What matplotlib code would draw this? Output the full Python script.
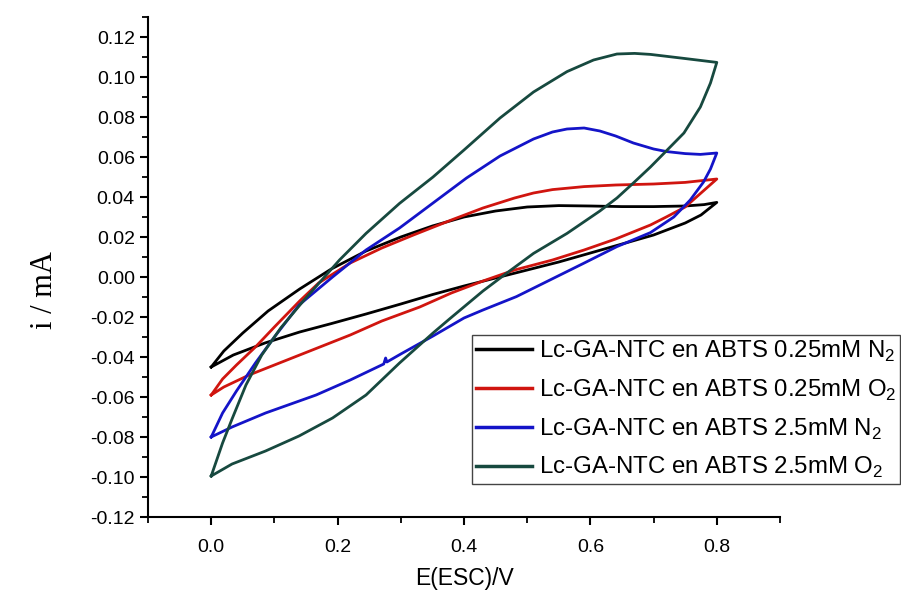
import matplotlib
matplotlib.use("Agg")
import matplotlib.pyplot as plt
from matplotlib.ticker import MultipleLocator, FormatStrFormatter

plt.rcParams["font.family"] = ["Liberation Sans", "DejaVu Sans"]
plt.rcParams["mathtext.fontset"] = "custom"
plt.rcParams["mathtext.rm"] = "Liberation Sans"

LABELS = [
    r"Lc-GA-NTC en ABTS 0.25mM N$_\mathrm{2}$",
    r"Lc-GA-NTC en ABTS 0.25mM O$_\mathrm{2}$",
    r"Lc-GA-NTC en ABTS 2.5mM N$_\mathrm{2}$",
    r"Lc-GA-NTC en ABTS 2.5mM O$_\mathrm{2}$",
]
COLORS = ["#000000", "#d0150f", "#1414c8", "#17493f"]

# 0.25 mM ABTS, N2 : forward sweep (0 -> 0.8 V) then reverse (0.8 -> 0 V)
e_n2_low_fwd = [0.0, 0.02, 0.05, 0.09, 0.14, 0.19, 0.245, 0.30, 0.35, 0.40, 0.45,
                0.50, 0.55, 0.60, 0.65, 0.70, 0.75, 0.78, 0.80]
i_n2_low_fwd = [-0.045, -0.037, -0.028, -0.017, -0.006, 0.004, 0.013, 0.020, 0.0255,
                0.030, 0.033, 0.035, 0.0357, 0.0355, 0.0352, 0.0352, 0.0355, 0.0362, 0.0373]
e_n2_low_rev = [0.80, 0.775, 0.75, 0.70, 0.65, 0.60, 0.55, 0.50, 0.45, 0.40, 0.35,
                0.30, 0.245, 0.19, 0.14, 0.085, 0.035, 0.0]
i_n2_low_rev = [0.0373, 0.031, 0.027, 0.021, 0.0165, 0.012, 0.0075, 0.0035, -0.0005,
                -0.0045, -0.0088, -0.0135, -0.0185, -0.0233, -0.0275, -0.033, -0.039, -0.045]

# 0.25 mM ABTS, O2
e_o2_low_fwd = [0.0, 0.018, 0.04, 0.07, 0.10, 0.14, 0.17, 0.22, 0.27, 0.32, 0.38, 0.43,
                0.48, 0.51, 0.54, 0.59, 0.64, 0.70, 0.75, 0.80]
i_o2_low_fwd = [-0.059, -0.051, -0.044, -0.035, -0.025, -0.012, -0.003, 0.007, 0.0145,
                0.021, 0.0285, 0.0345, 0.0395, 0.042, 0.0437, 0.0452, 0.046, 0.0465,
                0.0473, 0.049]
e_o2_low_rev = [0.80, 0.775, 0.75, 0.72, 0.695, 0.64, 0.59, 0.54, 0.48, 0.43, 0.38,
                0.33, 0.27, 0.22, 0.14, 0.06, 0.02, 0.0]
i_o2_low_rev = [0.049, 0.042, 0.035, 0.030, 0.026, 0.019, 0.0135, 0.0085, 0.0035,
                -0.002, -0.008, -0.015, -0.022, -0.029, -0.039, -0.049, -0.055, -0.059]

# 2.5 mM ABTS, N2 (small glitch near 0.28 V on the reverse sweep)
e_n2_high_fwd = [0.0, 0.018, 0.04, 0.07, 0.10, 0.139, 0.192, 0.245, 0.298, 0.351, 0.404,
                 0.457, 0.51, 0.54, 0.563, 0.59, 0.615, 0.64, 0.668, 0.70, 0.721, 0.75,
                 0.774, 0.80]
i_n2_high_fwd = [-0.080, -0.068, -0.057, -0.043, -0.030, -0.014, 0.0, 0.0135, 0.0245,
                 0.037, 0.0495, 0.0605, 0.069, 0.0725, 0.074, 0.0745, 0.073, 0.0705,
                 0.067, 0.064, 0.0627, 0.0617, 0.0613, 0.062]
e_n2_high_rev = [0.80, 0.79, 0.779, 0.758, 0.732, 0.695, 0.642, 0.589, 0.536, 0.483,
                 0.43, 0.40, 0.351, 0.30, 0.278, 0.276, 0.273, 0.22, 0.166, 0.086, 0.033, 0.0]
i_n2_high_rev = [0.062, 0.054, 0.0475, 0.0385, 0.030, 0.0222, 0.0152, 0.0068, -0.0015,
                 -0.0098, -0.0165, -0.0205, -0.0295, -0.0385, -0.0425, -0.0405, -0.0435,
                 -0.0515, -0.059, -0.068, -0.075, -0.080]

# 2.5 mM ABTS, O2
e_o2_high_fwd = [0.0, 0.018, 0.033, 0.055, 0.08, 0.11, 0.147, 0.203, 0.245, 0.298, 0.351,
                 0.40, 0.457, 0.51, 0.563, 0.605, 0.642, 0.67, 0.695, 0.748, 0.80]
i_o2_high_fwd = [-0.0995, -0.083, -0.071, -0.054, -0.039, -0.0255, -0.0115, 0.0085, 0.0218,
                 0.0368, 0.050, 0.0635, 0.0795, 0.0925, 0.1027, 0.1085, 0.1115, 0.1118,
                 0.1113, 0.1093, 0.1073]
e_o2_high_rev = [0.80, 0.79, 0.774, 0.748, 0.72, 0.695, 0.668, 0.642, 0.615, 0.563, 0.51,
                 0.467, 0.43, 0.377, 0.351, 0.298, 0.245, 0.192, 0.139, 0.086, 0.033, 0.0]
i_o2_high_rev = [0.1073, 0.097, 0.085, 0.072, 0.063, 0.055, 0.047, 0.0395, 0.033, 0.0218,
                 0.0118, 0.0018, -0.007, -0.021, -0.028, -0.043, -0.059, -0.0705, -0.0795,
                 -0.087, -0.0935, -0.0995]

curves = [
    (e_n2_low_fwd + e_n2_low_rev[1:], i_n2_low_fwd + i_n2_low_rev[1:]),
    (e_o2_low_fwd + e_o2_low_rev[1:], i_o2_low_fwd + i_o2_low_rev[1:]),
    (e_n2_high_fwd + e_n2_high_rev[1:], i_n2_high_fwd + i_n2_high_rev[1:]),
    (e_o2_high_fwd + e_o2_high_rev[1:], i_o2_high_fwd + i_o2_high_rev[1:]),
]

fig = plt.figure(figsize=(9.01, 5.92), dpi=100)
ax = fig.add_axes([148 / 901, 1 - 517 / 592, (780 - 148) / 901, (517 - 17) / 592])

for (e, i), color, label in zip(curves, COLORS, LABELS):
    ax.plot(e, i, color=color, lw=2.0, label=label, solid_joinstyle="round")

ax.set_xlim(-0.1, 0.9)
ax.set_ylim(-0.12, 0.13)
ax.set_xticks([0.0, 0.2, 0.4, 0.6, 0.8])
ax.xaxis.set_minor_locator(MultipleLocator(0.1))
ax.set_yticks([round(-0.12 + 0.02 * k, 2) for k in range(13)])
ax.yaxis.set_minor_locator(MultipleLocator(0.01))
ax.xaxis.set_major_formatter(FormatStrFormatter("%.1f"))
ax.yaxis.set_major_formatter(FormatStrFormatter("%.2f"))

for side in ["top", "right"]:
    ax.spines[side].set_visible(False)
for side in ["left", "bottom"]:
    ax.spines[side].set_linewidth(1.5)
ax.tick_params(which="major", direction="out", length=6, width=1.5, labelsize=14)
ax.tick_params(which="minor", direction="out", length=4, width=1.3)
ax.tick_params(axis="x", pad=10)

fig.text(465 / 901, 1 - 578 / 592, "E(ESC)/V", ha="center", va="center", fontsize=16.5)
fig.text(45 / 901, 1 - 290 / 592, "i / mA", ha="center", va="center", rotation=90,
         fontsize=22, family=["Liberation Serif", "DejaVu Serif"])

leg = ax.legend(loc="upper left", bbox_to_anchor=(472 / 901, 1 - 335 / 592),
                bbox_transform=fig.transFigure, borderaxespad=0, fontsize=17.3,
                frameon=True, fancybox=False, framealpha=1, edgecolor="#444444",
                handlelength=2.35, handletextpad=0.3, borderpad=0.15, labelspacing=0.57)
leg.get_frame().set_linewidth(1.0)
for line in leg.get_lines():
    line.set_linewidth(2.5)

fig.savefig("out.png", dpi=100)
